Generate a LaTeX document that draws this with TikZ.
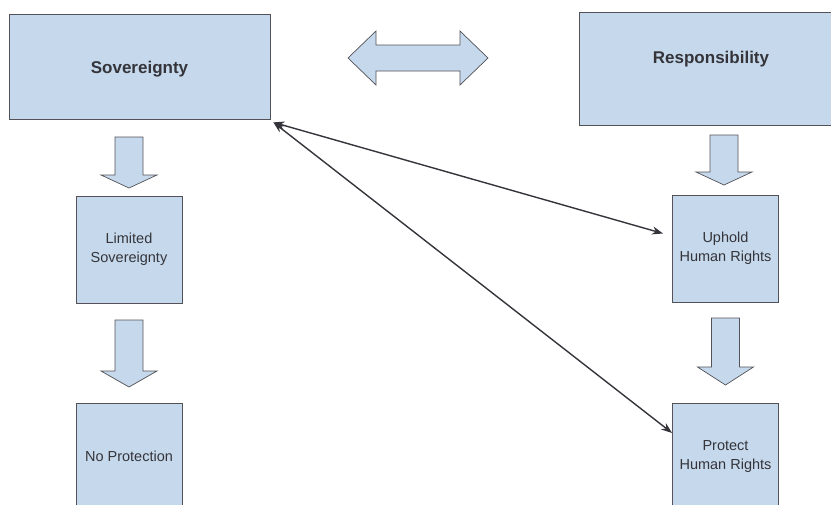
\documentclass[tikz,border=0pt]{standalone}
\usepackage{fontspec}
\setmainfont{Liberation Sans}
\usetikzlibrary{arrows.meta}
\definecolor{boxfill}{RGB}{198,217,236}
\definecolor{edge}{RGB}{82,82,88}
\definecolor{ink}{RGB}{52,52,58}

\tikzset{
  bigbox/.style={draw=edge, line width=0.8pt, fill=boxfill, inner sep=0pt},
  bigtext/.style={text=ink, font=\bfseries\fontsize{17}{20}\selectfont},
  smallbox/.style={draw=edge, line width=0.8pt, fill=boxfill, text=ink,
    font=\fontsize{14.5}{19}\selectfont, align=center,
    minimum width=106pt, minimum height=107pt, inner sep=0pt},
  blockarrow/.style={draw=edge, line width=0.7pt, fill=boxfill, line join=miter},
  link/.style={draw=ink, line width=1.4pt,
    {Stealth[length=11pt,width=8pt]}-{Stealth[length=11pt,width=8pt]}}
}

\begin{document}
\begin{tikzpicture}[x=1pt, y=-1pt]
  \useasboundingbox (0,0) rectangle (831,504);

  % the two headings
  \node[bigbox, minimum width=261pt, minimum height=105pt,
        label={[bigtext, yshift=-3pt]center:Sovereignty}] (sov) at (139.5,66.5) {};
  \node[bigbox, minimum width=264pt, minimum height=113pt,
        label={[bigtext, yshift=9pt]center:Responsibility}] (resp) at (711,68.5) {};

  % the boxes below them
  \foreach \name/\x/\y/\lab in {
    lim/129/249.5/{Limited\\Sovereignty},
    noprot/129/456.5/No Protection,
    uphold/725.5/248.5/{Uphold\\Human Rights},
    protect/725.5/456.5/{Protect\\Human Rights}} {
      \node[smallbox] (\name) at (\x,\y) {\lab};
  }

  % block arrows pointing down
  \foreach \cx/\ty/\hb/\tip in {129/137/175/188, 129/320/371/387,
                                 724/135/172/185, 725.5/318/367/385} {
    \draw[blockarrow] (\cx-14,\ty) -- (\cx+14,\ty) -- (\cx+14,\hb) -- (\cx+28,\hb)
      -- (\cx,\tip) -- (\cx-28,\hb) -- (\cx-14,\hb) -- cycle;
  }

  % double block arrow between the headings
  \draw[blockarrow] (348,58) -- (376,31) -- (376,45) -- (460,45) -- (460,31)
    -- (488,58) -- (460,85) -- (460,71) -- (376,71) -- (376,85) -- cycle;

  % links
  \draw[link] ([shift={(3pt,-3pt)}]sov.south east) -- ([shift={(-9pt,15pt)}]uphold.west);
  \draw[link] ([shift={(3pt,-3pt)}]sov.south east) -- ([yshift=23.5pt]protect.west);
\end{tikzpicture}
\end{document}
